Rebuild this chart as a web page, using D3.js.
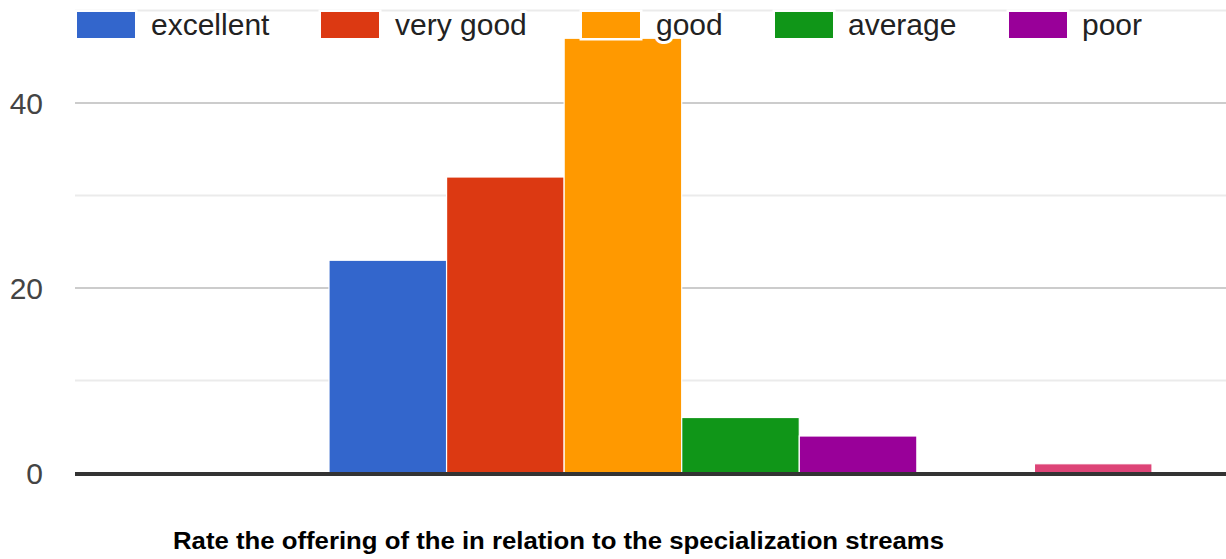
<!DOCTYPE html>
<html>
<head>
<meta charset="utf-8">
<script src="https://cdn.jsdelivr.net/npm/d3@7"></script>
<style>
  body { margin: 0; background: #fff; }
  svg { display: block; }
</style>
</head>
<body>
<div id="chart"></div>
<script>
// series (one group, google-forms style bar chart)
const seriesNames = ["excellent", "very good", "good", "average", "poor", "", ""];
const seriesValues = [23, 32, 47, 6, 4, 0, 1];
const seriesColors = ["#3366cc", "#dc3912", "#ff9900", "#109618", "#990099", "#0099c6", "#dd4477"];
const yTicks = [0, 10, 20, 30, 40, 50];
const yLabels = [0, 20, 40];
const title = "Rate the offering of the in relation to the specialization streams";

// legend layout (only the first five entries fit in the picture)
const legendX = [77, 321, 582, 775, 1009];
const legendTextX = [151, 395, 656, 848, 1082];

const width = 1226, height = 559;

const svg = d3.select("#chart")
    .append("svg")
    .attr("width", width)
    .attr("height", height);

// scales
const y = d3.scaleLinear()
    .domain([0, 50])
    .range([473, 10.5]);

const x = d3.scaleBand()
    .domain(d3.range(seriesValues.length))
    .range([329, 1152])
    .padding(0);

// gridlines
svg.append("g")
    .selectAll("line")
    .data(yTicks.filter(d => d !== 0))
    .enter()
    .append("line")
    .attr("x1", 75)
    .attr("x2", width)
    .attr("y1", d => y(d))
    .attr("y2", d => y(d))
    .attr("stroke", d => d % 20 === 0 ? "#cccccc" : "#ebebeb")
    .attr("stroke-width", 2);

// bars
svg.append("g")
    .selectAll("rect")
    .data(seriesValues)
    .enter()
    .append("rect")
    .attr("x", (d, i) => x(i))
    .attr("y", d => y(d))
    .attr("width", x.bandwidth())
    .attr("height", d => y(0) - y(d))
    .attr("fill", (d, i) => seriesColors[i])
    .attr("stroke", "#fff")
    .attr("stroke-width", 1.2)
    .style("display", d => d === 0 ? "none" : null);

// baseline
svg.append("line")
    .attr("x1", 75)
    .attr("x2", width)
    .attr("y1", y(0) + 1)
    .attr("y2", y(0) + 1)
    .attr("stroke", "#333")
    .attr("stroke-width", 4);

// y labels
svg.append("g")
    .selectAll("text")
    .data(yLabels)
    .enter()
    .append("text")
    .attr("x", 43)
    .attr("y", d => y(d))
    .attr("dy", "0.36em")
    .attr("text-anchor", "end")
    .attr("font-family", "Liberation Sans, Arial, sans-serif")
    .attr("font-size", 30)
    .attr("fill", "#444")
    .text(d => d);

// legend
const legend = svg.append("g");
legend.selectAll("rect")
    .data(legendX)
    .enter()
    .append("rect")
    .attr("x", d => d)
    .attr("y", 12)
    .attr("width", 58)
    .attr("height", 26)
    .attr("fill", (d, i) => seriesColors[i])
    .attr("stroke", "#fff")
    .attr("stroke-width", 5)
    .style("paint-order", "stroke");
legend.selectAll("rect.inner")
    .data(legendX)
    .enter()
    .append("rect")
    .attr("class", "inner")
    .attr("x", d => d)
    .attr("y", 12)
    .attr("width", 58)
    .attr("height", 26)
    .attr("fill", (d, i) => seriesColors[i]);
legend.selectAll("text")
    .data(legendTextX)
    .enter()
    .append("text")
    .attr("x", d => d)
    .attr("y", 35)
    .attr("font-family", "Liberation Sans, Arial, sans-serif")
    .attr("font-size", 30)
    .attr("fill", "#222")
    .attr("stroke", "#fff")
    .attr("stroke-width", 6)
    .attr("stroke-linejoin", "round")
    .style("paint-order", "stroke")
    .text((d, i) => seriesNames[i]);

// title
svg.append("text")
    .attr("x", 173)
    .attr("y", 549)
    .attr("font-family", "Liberation Sans, Arial, sans-serif")
    .attr("font-weight", "bold")
    .attr("font-size", 23)
    .attr("fill", "#000")
    .attr("textLength", 771)
    .attr("lengthAdjust", "spacingAndGlyphs")
    .text(title);
</script>
</body>
</html>
